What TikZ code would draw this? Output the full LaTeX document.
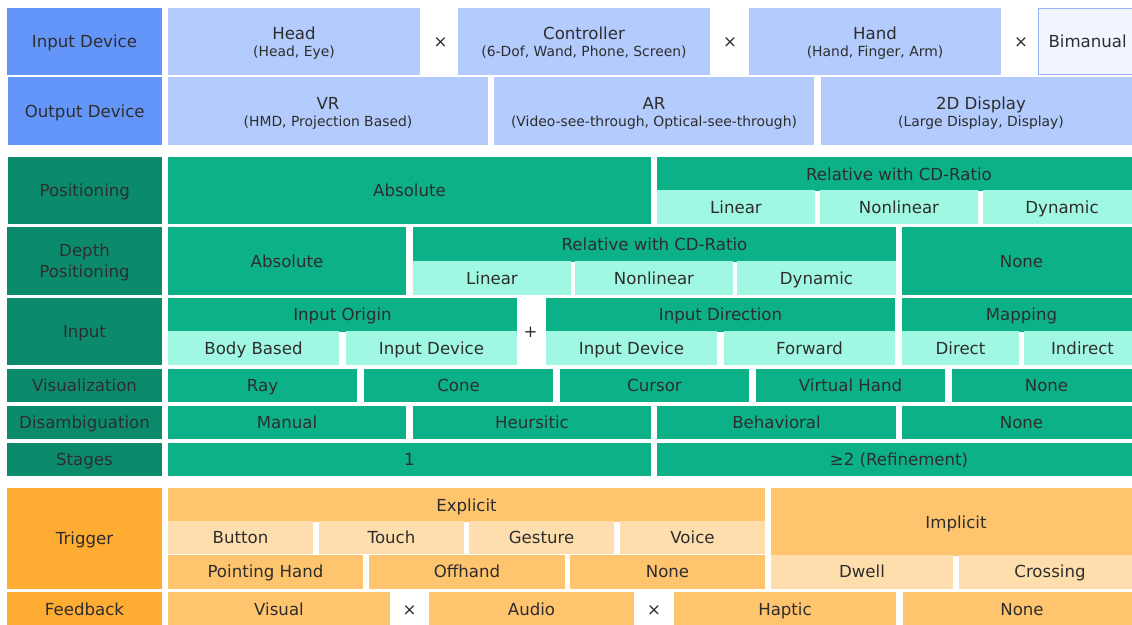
\documentclass[tikz,border=0pt]{standalone}
\usepackage{fontspec}
\setmainfont{DejaVu Sans}
\definecolor{txt}{RGB}{45,45,45}
\definecolor{lblblue}{RGB}{100,149,249}
\definecolor{cellblue}{RGB}{179,204,253}
\definecolor{bifill}{RGB}{240,245,255}
\definecolor{biline}{RGB}{150,182,246}
\definecolor{lblgreen}{RGB}{12,139,108}
\definecolor{cellgreen}{RGB}{13,177,136}
\definecolor{mint}{RGB}{160,248,226}
\definecolor{lblorange}{RGB}{255,172,51}
\definecolor{cellorange}{RGB}{255,196,110}
\definecolor{lightorange}{RGB}{255,222,173}
\newcommand\mfs{\fontsize{16.6pt}{20pt}\selectfont}
\newcommand\sfs{\fontsize{13.9pt}{17pt}\selectfont}
\tikzset{
  cell/.style={rectangle, inner sep=0pt, outer sep=0pt, text=txt, font=\mfs, text height=12.1pt, text depth=0pt},
  lblB/.style={cell, fill=lblblue},
  cellB/.style={cell, fill=cellblue},
  biB/.style={cell, fill=bifill, draw=biline, line width=1pt},
  lblG/.style={cell, fill=lblgreen},
  cellG/.style={cell, fill=cellgreen},
  mintG/.style={cell, fill=mint},
  lblO/.style={cell, fill=lblorange},
  cellO/.style={cell, fill=cellorange},
  lightO/.style={cell, fill=lightorange},
  txtm/.style={inner sep=0pt, outer sep=0pt, text=txt, font=\mfs, text height=12.1pt, text depth=0pt},
  txts/.style={inner sep=0pt, outer sep=0pt, text=txt, font=\sfs, text height=10.1pt, text depth=0pt},
}
\newcommand\cbox[7]{\node[#6, minimum width={(#4)-(#2)}, minimum height={(#5)-(#3)}] (#1) at ({((#2)+(#4))/2},{((#3)+(#5))/2}) {#7};}
\newcommand\twoline[8]{\cbox{#1}{#2}{#3}{#4}{#5}{#6}{}
  \node[txtm] (#1-a) at ({((#2)+(#4))/2},{((#3)+(#5))/2-8}) {#7};
  \node[txts] (#1-b) at ({((#2)+(#4))/2},{((#3)+(#5))/2+10}) {#8};}
\begin{document}
\begin{tikzpicture}[x=1pt,y=-1pt]
\useasboundingbox (0,0) rectangle (1132,624);
% ---- Input / Output device
\cbox{lInDev}{7}{7.5}{162}{74.5}{lblB}{Input Device}
\twoline{head}{168}{7.5}{420}{74.5}{cellB}{Head}{(Head, Eye)}
\node[txtm] (x1) at (440.5,41) {×};
\twoline{ctrl}{458}{7.5}{710}{74.5}{cellB}{Controller}{(6-Dof, Wand, Phone, Screen)}
\node[txtm] (x2) at (730,41) {×};
\twoline{hand}{749}{7.5}{1001}{74.5}{cellB}{Hand}{(Hand, Finger, Arm)}
\node[txtm] (x3) at (1021,41) {×};
\cbox{bim}{1038}{8}{1150}{74}{biB}{}
\node[txtm, anchor=west] (bimT) at (1048.5,41) {Bimanual};
\cbox{lOutDev}{7.5}{77}{162}{145}{lblB}{Output Device}
\twoline{vr}{168}{77}{488}{145}{cellB}{VR}{(HMD, Projection Based)}
\twoline{ar}{494}{77}{814}{145}{cellB}{AR}{(Video-see-through, Optical-see-through)}
\twoline{dd}{821}{77}{1141}{145}{cellB}{2D Display}{(Large Display, Display)}
% ---- Positioning
\cbox{lPos}{7.5}{157}{162}{224}{lblG}{Positioning}
\cbox{posAbs}{168}{157}{651}{224}{cellG}{Absolute}
\cbox{posRel}{657}{157}{1141}{191}{cellG}{Relative with CD-Ratio}
\cbox{posLin}{657}{190}{815}{224}{mintG}{Linear}
\cbox{posNon}{820}{190}{978}{224}{mintG}{Nonlinear}
\cbox{posDyn}{983}{190}{1141}{224}{mintG}{Dynamic}
% ---- Depth positioning
\cbox{lDepth}{7}{227}{162}{295}{lblG}{}
\node[txtm] (lDepthA) at (84.5,250.5) {Depth};
\node[txtm] (lDepthB) at (84.5,271) {Positioning};
\cbox{depAbs}{168}{227}{406}{295}{cellG}{Absolute}
\cbox{depRel}{413}{227}{896}{262}{cellG}{Relative with CD-Ratio}
\cbox{depLin}{413}{261}{571}{295}{mintG}{Linear}
\cbox{depNon}{575}{261}{733}{295}{mintG}{Nonlinear}
\cbox{depDyn}{737}{261}{896}{295}{mintG}{Dynamic}
\cbox{depNone}{902}{227}{1141}{295}{cellG}{None}
% ---- Input
\cbox{lInput}{7}{297.5}{162}{365}{lblG}{Input}
\cbox{inOrig}{168}{297.5}{517}{332}{cellG}{Input Origin}
\cbox{inBody}{168}{331}{339}{365}{mintG}{Body Based}
\cbox{inDevA}{346}{331}{517}{365}{mintG}{Input Device}
\node[txtm] (plus) at (530.5,331) {+};
\cbox{inDir}{546}{297.5}{895}{332}{cellG}{Input Direction}
\cbox{inDevB}{546}{331}{717}{365}{mintG}{Input Device}
\cbox{inFwd}{724}{331}{895}{365}{mintG}{Forward}
\cbox{inMap}{902}{297.5}{1141}{332}{cellG}{Mapping}
\cbox{inDirect}{902}{331}{1019}{365}{mintG}{Direct}
\cbox{inIndirect}{1024}{331}{1141}{365}{mintG}{Indirect}
% ---- Visualization
\cbox{lVis}{7}{368.5}{162}{402}{lblG}{Visualization}
\cbox{visRay}{168}{368.5}{357}{402}{cellG}{Ray}
\cbox{visCone}{364}{368.5}{553}{402}{cellG}{Cone}
\cbox{visCur}{560}{368.5}{749}{402}{cellG}{Cursor}
\cbox{visHand}{756}{368.5}{945}{402}{cellG}{Virtual Hand}
\cbox{visNone}{952}{368.5}{1141}{402}{cellG}{None}
% ---- Disambiguation
\cbox{lDis}{7}{405.5}{162}{439}{lblG}{Disambiguation}
\cbox{disMan}{168}{405.5}{406}{439}{cellG}{Manual}
\cbox{disHeu}{413}{405.5}{651}{439}{cellG}{Heursitic}
\cbox{disBeh}{657}{405.5}{896}{439}{cellG}{Behavioral}
\cbox{disNone}{902}{405.5}{1141}{439}{cellG}{None}
% ---- Stages
\cbox{lStages}{7}{442.5}{162}{476}{lblG}{Stages}
\cbox{stOne}{168}{442.5}{651}{476}{cellG}{1}
\cbox{stTwo}{657}{442.5}{1141}{476}{cellG}{≥2 (Refinement)}
% ---- Trigger
\cbox{lTrig}{7}{488}{162}{588.7}{lblO}{Trigger}
\cbox{trExp}{168}{488}{765}{522}{cellO}{Explicit}
\cbox{trBtn}{168}{521}{313}{554}{lightO}{Button}
\cbox{trTouch}{319}{521}{464}{554}{lightO}{Touch}
\cbox{trGest}{469}{521}{614}{554}{lightO}{Gesture}
\cbox{trVoice}{620}{521}{765}{554}{lightO}{Voice}
\cbox{trPoint}{168}{555}{363}{588.7}{cellO}{Pointing Hand}
\cbox{trOff}{369}{555}{565}{588.7}{cellO}{Offhand}
\cbox{trNone}{570}{555}{765}{588.7}{cellO}{None}
\cbox{trImp}{771}{488}{1141}{556}{cellO}{Implicit}
\cbox{trDwell}{771}{555}{953}{588.7}{lightO}{Dwell}
\cbox{trCross}{959}{555}{1141}{588.7}{lightO}{Crossing}
% ---- Feedback
\cbox{lFb}{7}{592}{162}{627}{lblO}{Feedback}
\cbox{fbVis}{168}{592}{390}{627}{cellO}{Visual}
\node[txtm] (x4) at (409.5,609) {×};
\cbox{fbAud}{429}{592}{634}{627}{cellO}{Audio}
\node[txtm] (x5) at (654,609) {×};
\cbox{fbHap}{674}{592}{896}{627}{cellO}{Haptic}
\cbox{fbNone}{903}{592}{1141}{627}{cellO}{None}
\end{tikzpicture}
\end{document}
